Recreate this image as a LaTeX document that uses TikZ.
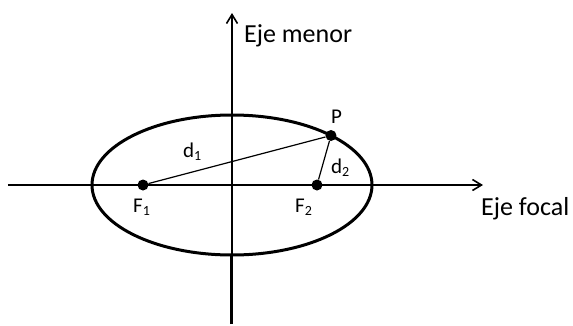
\documentclass[tikz,border=0pt]{standalone}
\usepackage{fontspec}
\setmainfont{Carlito}
\usetikzlibrary{arrows.meta}
\newcommand{\idx}[1]{\raisebox{-0.3ex}{\fontsize{14}{14}\selectfont #1}}

\begin{document}
\begin{tikzpicture}[x=1pt,y=1pt,
  axis/.style={line width=1.6pt,-{Straight Barb[length=9pt,width=11pt]}},
  focus/.style={circle,fill=black,inner sep=0pt,minimum size=11pt},
  lbl/.style={font=\fontsize{21}{25}\selectfont,inner sep=0pt,anchor=base west},
  axlbl/.style={font=\fontsize{26}{31}\selectfont,inner sep=0pt,anchor=base west}]
\useasboundingbox (-232,-140) rectangle (341,185);
% axes
\coordinate (xl) at (-224,0);
\coordinate (xr) at (251,0);
\coordinate (yt) at (0,172);
\coordinate (ye) at (0,-71);
\coordinate (yb) at (0,-139);
\draw[axis] (xl) -- (xr);
\draw[axis] (ye) -- (yt);
\draw[line width=3pt] (yb) -- (ye);
% ellipse
\draw[line width=3pt] (0,0) ellipse [x radius=140pt, y radius=70pt];
% foci and point
\node[focus] (F1) at (-89,0) {};
\node[focus] (F2) at (85,0) {};
\node[focus] (P) at (45:140pt and 70pt) {};
\draw[line width=1.2pt] (F1) -- (P);
\draw[line width=1.2pt] (F2) -- (P);
% labels
\node[lbl] (Plbl) at (99,62) {P};
\node[lbl] (dunolbl) at (-49,28) {d\idx{1}};
\node[lbl] (ddoslbl) at (99,12) {d\idx{2}};
\node[lbl] (Funolbl) at (-99,-27) {F\idx{1}};
\node[lbl] (Fdoslbl) at (63,-27) {F\idx{2}};
\node[axlbl] (menor) at (12,143) {Eje menor};
\node[axlbl] (focal) at (249,-30) {Eje focal};
\end{tikzpicture}
\end{document}
